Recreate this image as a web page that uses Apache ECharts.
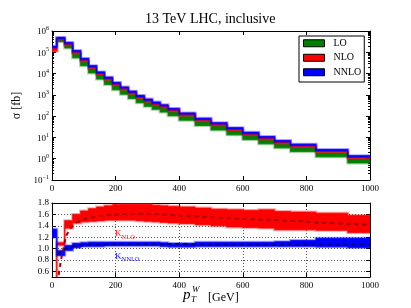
<!DOCTYPE html>
<html><head><meta charset="utf-8">
<script src="https://cdn.jsdelivr.net/npm/echarts@6/dist/echarts.min.js"></script>
<style>html,body{margin:0;padding:0;background:#fff}#c{width:411px;height:308px}</style>
</head><body><div id="c"></div>
<script>
// ---- data ----
const binEdges = [0,15,40,65,90,115,140,165,190,215,240,265,290,315,340,365,400,450,500,550,600,650,700,750,830,930,1000];
// sigma [fb] bands (lower / upper edge per bin)
const nnloHi = [1.9e5,5.0e5,2.88e5,1.2e5,5.13e4,2.34e4,1.2e4,6760,3800,2340,1480,933,631,457,339,229,141,79.4,49.0,28.8,17.4,11.0,7.08,4.79,2.69,1.38];
const nnloLo = [1.7e5,4.47e5,2.57e5,1.07e5,4.57e4,2.09e4,1.07e4,6030,3390,2090,1320,832,562,407,302,204,126,70.8,43.7,25.7,15.5,9.77,6.31,4.27,2.40,1.23];
const nloHi  = [1.78e5,4.57e5,2.63e5,1.1e5,4.68e4,2.14e4,1.1e4,6170,3470,2140,1350,851,575,417,309,209,129,72.4,44.7,26.3,15.9,10.0,6.46,4.37,2.46,1.26];
const nloLo  = [1.15e5,3.98e5,2.19e5,9.12e4,3.89e4,1.78e4,9120,5130,2880,1780,1120,708,479,347,257,174,107,60.3,37.2,21.9,13.2,8.32,5.37,3.63,2.04,1.05];
const loHi   = [1.58e5,3.98e5,2.24e5,8.51e4,3.63e4,1.66e4,8510,4790,2690,1660,1050,661,447,324,240,162,100,56.2,34.7,20.4,12.3,7.76,5.01,3.39,1.91,0.977];
const loLo   = [1.2e5,3.16e5,1.59e5,5.5e4,2.34e4,1.07e4,5500,3090,1740,1070,676,427,288,209,155,105,64.6,36.3,22.4,13.2,7.94,5.01,3.24,2.19,1.23,0.631];
// K factor bands
const kNloLo  = [0.30,1.06,1.36,1.45,1.47,1.48,1.49,1.50,1.50,1.50,1.50,1.49,1.48,1.47,1.46,1.45,1.44,1.42,1.40,1.38,1.37,1.36,1.33,1.33,1.32,1.28];
const kNloHi  = [0.40,1.10,1.49,1.60,1.66,1.70,1.73,1.75,1.77,1.78,1.78,1.78,1.78,1.76,1.75,1.74,1.73,1.71,1.69,1.68,1.67,1.68,1.65,1.64,1.62,1.58];
const kNnloLo = [1.20,0.88,0.97,1.02,1.04,1.04,1.04,1.05,1.05,1.05,1.05,1.05,1.05,1.05,1.04,1.03,1.03,1.04,1.04,1.04,1.04,1.04,1.04,1.04,1.03,1.02];
const kNnloHi = [1.34,0.96,1.05,1.09,1.10,1.11,1.11,1.11,1.11,1.11,1.11,1.11,1.11,1.11,1.10,1.09,1.09,1.11,1.11,1.11,1.11,1.11,1.12,1.14,1.18,1.18];
// dashed K curves
const kNloCurveX = [17,20,25,30,36,43,50,57,72,93,120,150,200,250,300,400,500,600,700,800,900,1000];
const kNloCurveY = [0.40,0.50,0.68,0.85,1.00,1.20,1.28,1.35,1.44,1.50,1.54,1.57,1.60,1.61,1.61,1.58,1.55,1.52,1.50,1.47,1.44,1.42];
const kNnloCurveX = [17,25,35,45,60,80,100,150,200,300,400,500,600,700,800,900,1000];
const kNnloCurveY = [0.90,0.93,0.97,1.00,1.03,1.05,1.06,1.07,1.08,1.08,1.08,1.07,1.07,1.07,1.07,1.07,1.07];
// tick labels
const xTicks = [0,200,400,600,800,1000];
const ratioTicks = [0.6,0.8,1.0,1.2,1.4,1.6,1.8];

const FONT = 'Liberation Serif';
const chart = echarts.init(document.getElementById('c'));

function stepBand(lo, hi, color, halo) {
  return function (params, api) {
    const top = [], bot = [];
    for (let i = 0; i < lo.length; i++) {
      top.push(api.coord([binEdges[i], hi[i]]));
      top.push(api.coord([binEdges[i + 1], hi[i]]));
      bot.push(api.coord([binEdges[i], lo[i]]));
      bot.push(api.coord([binEdges[i + 1], lo[i]]));
    }
    const pts = top.concat(bot.reverse());
    return { type: 'group', children: [
      { type: 'polygon', shape: { points: pts }, style: { fill: 'none', stroke: halo, lineWidth: 3 } },
      { type: 'polygon', shape: { points: pts }, style: { fill: color, stroke: color, lineWidth: 0.8 } }
    ]};
  };
}
function bandSeries(name, xi, yi, lo, hi, color, halo, z) {
  return { type: 'custom', name: name, xAxisIndex: xi, yAxisIndex: yi, clip: true, silent: true, z: z,
    itemStyle: { color: color }, data: [[500, 1]], renderItem: stepBand(lo, hi, color, halo) };
}
const tickStyle = { inside: true, length: 4, lineStyle: { color: '#000', width: 1 } };
const lineStyle = { show: true, onZero: false, lineStyle: { color: '#000', width: 1 } };
const lblStyle = { fontFamily: FONT, fontSize: 9, color: '#000' };
const xLabel = Object.assign({ margin: 4, customValues: xTicks, formatter: v => String(v) }, lblStyle);

const option = {
  animation: false,
  backgroundColor: '#fff',
  title: { text: '13 TeV LHC, inclusive', left: 145, top: 12, padding: 0,
    textStyle: { fontFamily: FONT, fontSize: 14, fontWeight: 'normal', color: '#000' } },
  legend: {
    left: 299, top: 36, orient: 'vertical', itemWidth: 21, itemHeight: 7, itemGap: 1,
    padding: [0.5, 3, 3, 4], borderColor: '#000', borderWidth: 1, backgroundColor: '#fff',
    selectedMode: false, z: 10,
    textStyle: { fontFamily: FONT, fontSize: 10, color: '#000', lineHeight: 13.5, padding: [0, 0, 0, 4] },
    data: [
      { name: 'LO', icon: 'rect', itemStyle: { color: '#008000', borderColor: '#000', borderWidth: 1 } },
      { name: 'NLO', icon: 'rect', itemStyle: { color: '#ff0000', borderColor: '#000', borderWidth: 1 } },
      { name: 'NNLO', icon: 'rect', itemStyle: { color: '#0000ff', borderColor: '#000', borderWidth: 1 } }
    ]
  },
  grid: [
    { left: 52, top: 31, width: 318, height: 149 },
    { left: 52, top: 203, width: 318, height: 74 }
  ],
  xAxis: [
    { type: 'value', gridIndex: 0, min: 0, max: 1000, interval: 200, position: 'bottom',
      axisLine: lineStyle, axisTick: tickStyle, splitLine: { show: false }, axisLabel: xLabel },
    { type: 'value', gridIndex: 0, min: 0, max: 1000, interval: 200, position: 'top',
      axisLine: lineStyle, axisTick: tickStyle, splitLine: { show: false }, axisLabel: { show: false } },
    { type: 'value', gridIndex: 1, min: 0, max: 1000, interval: 200, position: 'bottom',
      axisLine: lineStyle, axisTick: tickStyle,
      splitLine: { show: true, lineStyle: { color: '#555', width: 1, type: [1, 2] } },
      axisLabel: xLabel },
    { type: 'value', gridIndex: 1, min: 0, max: 1000, interval: 200, position: 'top',
      axisLine: lineStyle, axisTick: tickStyle, splitLine: { show: false }, axisLabel: { show: false } }
  ],
  yAxis: [
    { type: 'log', gridIndex: 0, min: 0.1, max: 1e6, logBase: 10, position: 'left',
      axisLine: lineStyle, axisTick: tickStyle,
      minorTick: { show: true, splitNumber: 9, length: 2, lineStyle: { color: '#000' } },
      splitLine: { show: false },
      name: 'σ [fb]', nameLocation: 'middle', nameGap: 22, nameRotate: 90,
      nameTextStyle: { fontFamily: FONT, fontSize: 12, color: '#000' },
      axisLabel: { margin: 3, formatter: function (v) {
          const e = Math.round(Math.log10(v));
          return '{b|10}{s|' + (e < 0 ? '−' + (-e) : e) + '}';
        },
        rich: { b: { fontFamily: FONT, fontSize: 9, color: '#000', verticalAlign: 'bottom' },
                s: { fontFamily: FONT, fontSize: 6, color: '#000', verticalAlign: 'bottom', padding: [0, 0, 5, 0] } } } },
    { type: 'log', gridIndex: 0, min: 0.1, max: 1e6, logBase: 10, position: 'right',
      axisLine: lineStyle, axisTick: tickStyle,
      minorTick: { show: true, splitNumber: 9, length: 2, lineStyle: { color: '#000' } },
      splitLine: { show: false }, axisLabel: { show: false } },
    { type: 'value', gridIndex: 1, min: 0.5, max: 1.8, position: 'left',
      axisLine: lineStyle, axisTick: Object.assign({ customValues: ratioTicks }, tickStyle),
      splitLine: { show: true, lineStyle: { color: '#555', width: 1, type: [1, 2] } },
      axisLabel: Object.assign({ margin: 3, customValues: ratioTicks, formatter: v => v.toFixed(1) }, lblStyle) },
    { type: 'value', gridIndex: 1, min: 0.5, max: 1.8, position: 'right',
      axisLine: lineStyle, axisTick: Object.assign({ customValues: ratioTicks }, tickStyle),
      splitLine: { show: false }, axisLabel: { show: false, customValues: ratioTicks } }
  ],
  graphic: [
    { type: 'text', x: 183, y: 295.5, style: { text: 'p', fontFamily: FONT, fontStyle: 'italic', fontSize: 15, fill: '#000', verticalAlign: 'middle' } },
    { type: 'text', x: 192, y: 290, style: { text: 'W', fontFamily: FONT, fontStyle: 'italic', fontSize: 9, fill: '#000', verticalAlign: 'middle' } },
    { type: 'text', x: 191, y: 300, style: { text: 'T', fontFamily: FONT, fontStyle: 'italic', fontSize: 9, fill: '#000', verticalAlign: 'middle' } },
    { type: 'text', x: 208, y: 297.5, style: { text: '[GeV]', fontFamily: FONT, fontSize: 12, fill: '#000', verticalAlign: 'middle' } },
    { type: 'text', x: 115, y: 229.5, z: 20, style: { text: '{k|K}{s|NLO}',
        rich: { k: { fontFamily: FONT, fontSize: 9, fill: '#ff2020', verticalAlign: 'bottom', padding: [0, 0, 2, 0] },
                s: { fontFamily: FONT, fontSize: 6.5, fill: '#ff2020', verticalAlign: 'bottom' } } } },
    { type: 'text', x: 115, y: 252, z: 20, style: { text: '{k|K}{s|NNLO}',
        rich: { k: { fontFamily: FONT, fontSize: 9, fill: '#2020ff', verticalAlign: 'bottom', padding: [0, 0, 2, 0] },
                s: { fontFamily: FONT, fontSize: 6.5, fill: '#2020ff', verticalAlign: 'bottom' } } } }
  ],
  series: [
    bandSeries('LO', 0, 0, loLo, loHi, '#008000', 'rgba(0,128,0,0.35)', 2),
    bandSeries('NLO', 0, 0, nloLo, nloHi, '#ff0000', 'rgba(255,0,0,0.35)', 3),
    bandSeries('NNLO', 0, 0, nnloLo, nnloHi, '#0000ff', 'rgba(0,0,255,0.35)', 4),
    bandSeries('K_NLO', 2, 2, kNloLo, kNloHi, '#ff0000', 'rgba(255,0,0,0.35)', 2),
    bandSeries('K_NNLO', 2, 2, kNnloLo, kNnloHi, '#0000ff', 'rgba(0,0,255,0.35)', 3),
    { type: 'line', name: 'K_NLO curve', xAxisIndex: 2, yAxisIndex: 2, z: 5, smooth: 0.3, showSymbol: false, silent: true,
      data: kNloCurveX.map((x, i) => [x, kNloCurveY[i]]),
      lineStyle: { color: '#990000', width: 2, type: [4, 4] } },
    { type: 'line', name: 'K_NNLO curve', xAxisIndex: 2, yAxisIndex: 2, z: 5, smooth: 0.3, showSymbol: false, silent: true,
      data: kNnloCurveX.map((x, i) => [x, kNnloCurveY[i]]),
      lineStyle: { color: '#000080', width: 2, type: [4, 4] } }
  ]
};
chart.setOption(option);
</script>
</body></html>
